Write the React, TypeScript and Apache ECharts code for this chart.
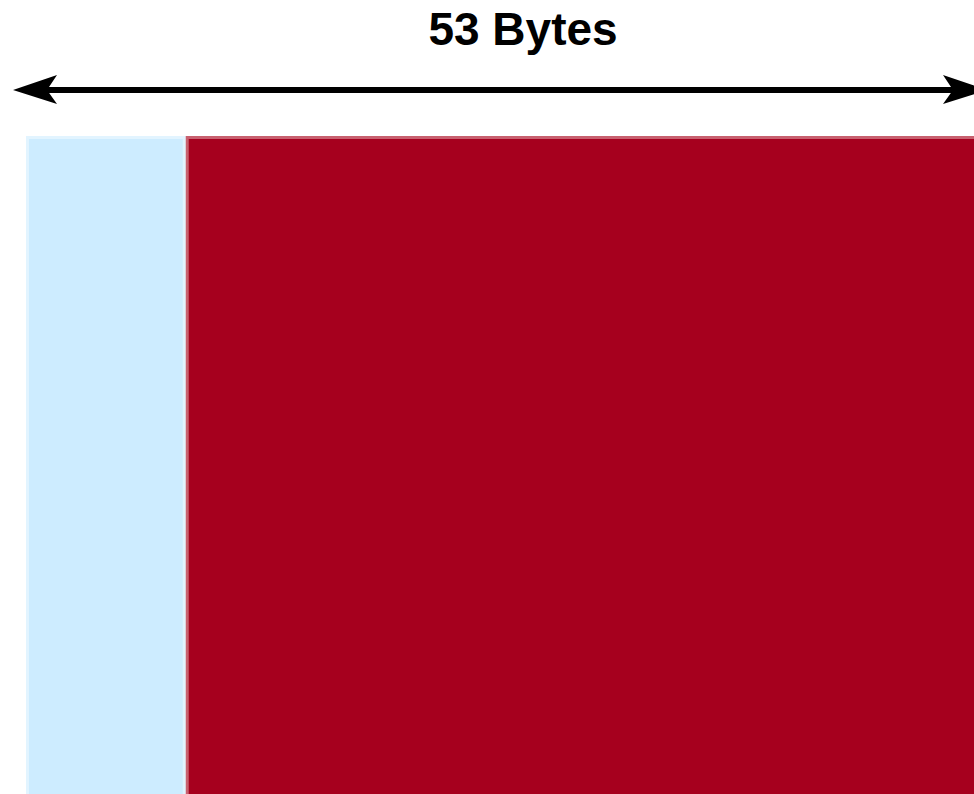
import React, { useEffect, useRef } from "react";
import * as echarts from "echarts";

const titleText = "53 Bytes";
const totalBytes = 53;
const categories = ["cell"];
const segmentNames = ["Header", "Payload"];
const headerValues = [8.5];
const payloadValues = [44.5];

export default function App() {
  const ref = useRef<HTMLDivElement>(null);
  useEffect(() => {
    if (!ref.current) return;
    const chart = echarts.init(ref.current, null, { renderer: "svg" });
    chart.setOption({
      animation: false,
      backgroundColor: "#ffffff",
      grid: {
        left: 26,
        top: 136,
        width: 996,
        height: 680,
        containLabel: false,
        outerBoundsMode: "none",
      },
      xAxis: { type: "value", min: 0, max: totalBytes, show: false },
      yAxis: { type: "category", data: categories, show: false },
      series: [
        {
          name: segmentNames[0],
          type: "bar",
          stack: "cell",
          barWidth: "100%",
          data: headerValues,
          itemStyle: { color: "#cdecff", borderColor: "#e2f4ff", borderWidth: 3 },
        },
        {
          name: segmentNames[1],
          type: "bar",
          stack: "cell",
          barWidth: "100%",
          data: payloadValues,
          itemStyle: { color: "#a6001e", borderColor: "#c8606f", borderWidth: 3 },
        },
      ],
      graphic: [
        {
          type: "text",
          x: 523,
          y: 6,
          style: {
            text: titleText,
            font: "bold 46px 'Liberation Sans', Arial, sans-serif",
            fill: "#000",
            textAlign: "center",
            textVerticalAlign: "top",
          },
        },
        {
          type: "line",
          shape: { x1: 30, y1: 90, x2: 960, y2: 90 },
          style: { stroke: "#000", lineWidth: 6 },
        },
        {
          type: "polygon",
          shape: { points: [[13, 90], [57, 75], [47, 90], [57, 104]] },
          style: { fill: "#000" },
        },
        {
          type: "polygon",
          shape: { points: [[987, 90], [943, 75], [953, 90], [943, 104]] },
          style: { fill: "#000" },
        },
      ],
    });
    return () => chart.dispose();
  }, []);
  return (
    <div
      ref={ref}
      style={{ position: "absolute", left: 0, top: 0, width: 974, height: 794 }}
    />
  );
}
